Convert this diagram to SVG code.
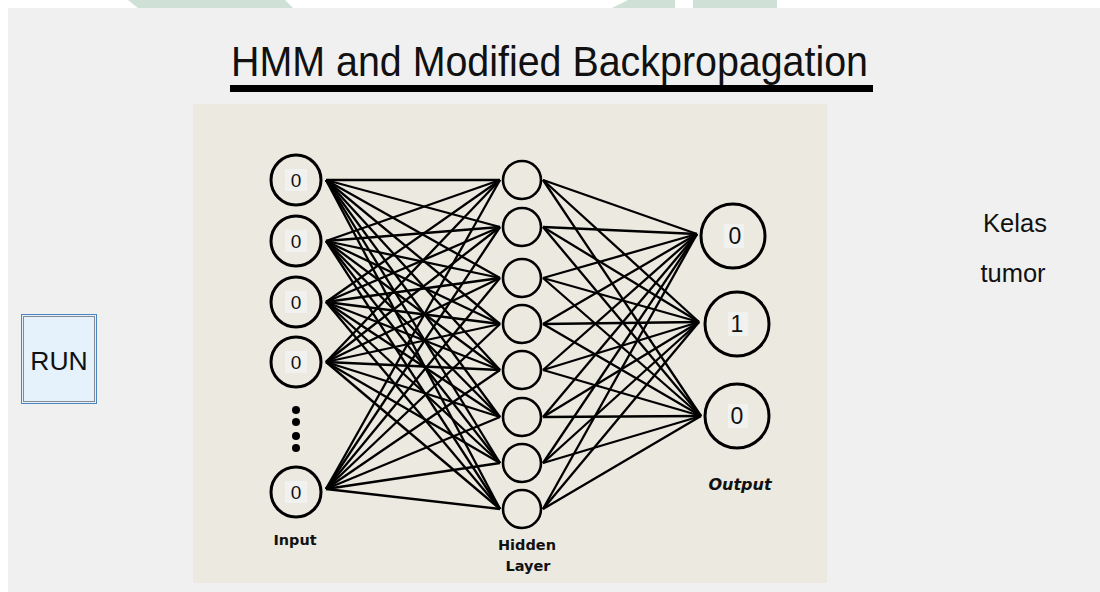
<svg xmlns="http://www.w3.org/2000/svg" width="1100" height="592" viewBox="0 0 1100 592">
<defs>
<style>
.wm{fill:#cfe0d6}
.panel{fill:#f0f0f0}
.img{fill:#ece9e0}
.in{fill:#ece9e0;stroke:#000;stroke-width:3}
.hid{fill:#ece9e0;stroke:#000;stroke-width:2.6}
.out{fill:#ece9e0;stroke:#000;stroke-width:3}
.lbg{fill:#f1f1ef}
.dig{font-family:"Liberation Sans",Arial,sans-serif;fill:#111;text-anchor:middle}
.lbl{font-family:"DejaVu Sans",sans-serif;font-weight:bold;fill:#111;text-anchor:middle}
.conn line{stroke:#000;stroke-width:2.3}
.gui{font-family:"Liberation Sans",Arial,sans-serif;fill:#111}
</style>
</defs>
<rect width="1100" height="592" fill="#ffffff"/>
<polygon class="wm" points="128,0 285,0 293,8 138,8"/>
<polygon class="wm" points="628,0 675,0 675,8 612,8"/>
<rect class="wm" x="693" y="0" width="84" height="8"/>
<rect class="panel" x="8" y="8" width="1092" height="584"/>

<g id="title">
<text class="gui" x="231" y="76" font-size="43" textLength="637" lengthAdjust="spacingAndGlyphs">HMM and Modified Backpropagation</text>
<rect x="230" y="85" width="643" height="7" fill="#000"/>
</g>

<g id="run-button">
<rect x="21.5" y="314.5" width="75" height="89" fill="#e5f1fb" stroke="#4a86c0" stroke-width="1"/>
<rect x="23.5" y="316.5" width="71" height="85" fill="none" stroke="#222" stroke-width="1" stroke-dasharray="1,1"/>
<text class="gui" x="59" y="370" font-size="26.5" text-anchor="middle">RUN</text>
</g>

<g id="kelas-tumor">
<text class="gui" x="1015" y="232" font-size="25.5" text-anchor="middle">Kelas</text>
<text class="gui" x="1013" y="282" font-size="25.5" text-anchor="middle">tumor</text>
</g>

<rect id="network-image" class="img" x="193" y="104" width="634" height="479"/>

<g id="connectors" class="conn">
<!-- input -> hidden -->
<line x1="326" y1="180" x2="500" y2="180"/><line x1="326" y1="180" x2="500" y2="227"/><line x1="326" y1="180" x2="500" y2="278"/><line x1="326" y1="180" x2="500" y2="324"/><line x1="326" y1="180" x2="500" y2="370"/><line x1="326" y1="180" x2="500" y2="417"/><line x1="326" y1="180" x2="500" y2="463"/><line x1="326" y1="180" x2="500" y2="509"/>
<line x1="326" y1="241" x2="500" y2="180"/><line x1="326" y1="241" x2="500" y2="227"/><line x1="326" y1="241" x2="500" y2="278"/><line x1="326" y1="241" x2="500" y2="324"/><line x1="326" y1="241" x2="500" y2="370"/><line x1="326" y1="241" x2="500" y2="417"/><line x1="326" y1="241" x2="500" y2="463"/><line x1="326" y1="241" x2="500" y2="509"/>
<line x1="326" y1="302" x2="500" y2="180"/><line x1="326" y1="302" x2="500" y2="227"/><line x1="326" y1="302" x2="500" y2="278"/><line x1="326" y1="302" x2="500" y2="324"/><line x1="326" y1="302" x2="500" y2="370"/><line x1="326" y1="302" x2="500" y2="417"/><line x1="326" y1="302" x2="500" y2="463"/><line x1="326" y1="302" x2="500" y2="509"/>
<line x1="326" y1="362" x2="500" y2="180"/><line x1="326" y1="362" x2="500" y2="227"/><line x1="326" y1="362" x2="500" y2="278"/><line x1="326" y1="362" x2="500" y2="324"/><line x1="326" y1="362" x2="500" y2="370"/><line x1="326" y1="362" x2="500" y2="417"/><line x1="326" y1="362" x2="500" y2="463"/><line x1="326" y1="362" x2="500" y2="509"/>
<line x1="326" y1="489" x2="500" y2="180"/><line x1="326" y1="489" x2="500" y2="227"/><line x1="326" y1="489" x2="500" y2="278"/><line x1="326" y1="489" x2="500" y2="324"/><line x1="326" y1="489" x2="500" y2="370"/><line x1="326" y1="489" x2="500" y2="417"/><line x1="326" y1="489" x2="500" y2="463"/><line x1="326" y1="489" x2="500" y2="509"/>
<!-- hidden -> output -->
<line x1="543" y1="180" x2="697" y2="234"/><line x1="543" y1="180" x2="699" y2="322"/><line x1="543" y1="180" x2="701" y2="416"/>
<line x1="543" y1="227" x2="697" y2="234"/><line x1="543" y1="227" x2="699" y2="322"/><line x1="543" y1="227" x2="701" y2="416"/>
<line x1="543" y1="278" x2="697" y2="234"/><line x1="543" y1="278" x2="699" y2="322"/><line x1="543" y1="278" x2="701" y2="416"/>
<line x1="543" y1="324" x2="697" y2="234"/><line x1="543" y1="324" x2="699" y2="322"/><line x1="543" y1="324" x2="701" y2="416"/>
<line x1="543" y1="370" x2="697" y2="234"/><line x1="543" y1="370" x2="699" y2="322"/><line x1="543" y1="370" x2="701" y2="416"/>
<line x1="543" y1="417" x2="697" y2="234"/><line x1="543" y1="417" x2="699" y2="322"/><line x1="543" y1="417" x2="701" y2="416"/>
<line x1="543" y1="463" x2="697" y2="234"/><line x1="543" y1="463" x2="699" y2="322"/><line x1="543" y1="463" x2="701" y2="416"/>
<line x1="543" y1="509" x2="697" y2="234"/><line x1="543" y1="509" x2="699" y2="322"/><line x1="543" y1="509" x2="701" y2="416"/>
</g>

<g id="input-1"><circle class="in" cx="296" cy="180" r="25"/><rect class="lbg" x="285" y="169" width="22" height="22"/><text class="dig" x="296" y="187" font-size="19">0</text></g>
<g id="input-2"><circle class="in" cx="296" cy="241" r="25"/><rect class="lbg" x="285" y="230" width="22" height="22"/><text class="dig" x="296" y="248" font-size="19">0</text></g>
<g id="input-3"><circle class="in" cx="296" cy="302" r="25"/><rect class="lbg" x="285" y="291" width="22" height="22"/><text class="dig" x="296" y="309" font-size="19">0</text></g>
<g id="input-4"><circle class="in" cx="296" cy="362" r="25"/><rect class="lbg" x="285" y="351" width="22" height="22"/><text class="dig" x="296" y="369" font-size="19">0</text></g>
<g id="input-dots"><circle cx="296" cy="410" r="4"/><circle cx="296" cy="422" r="4"/><circle cx="296" cy="436" r="4"/><circle cx="296" cy="448" r="4"/></g>
<g id="input-n"><circle class="in" cx="296" cy="492" r="25"/><rect class="lbg" x="285" y="481" width="22" height="22"/><text class="dig" x="296" y="499" font-size="19">0</text></g>
<g id="input-label"><text class="lbl" x="295" y="545" font-size="14.4">Input</text></g>

<g id="hidden-1"><circle class="hid" cx="522" cy="180" r="19"/></g>
<g id="hidden-2"><circle class="hid" cx="522" cy="227" r="19"/></g>
<g id="hidden-3"><circle class="hid" cx="522" cy="278" r="19"/></g>
<g id="hidden-4"><circle class="hid" cx="522" cy="324" r="19"/></g>
<g id="hidden-5"><circle class="hid" cx="522" cy="370" r="19"/></g>
<g id="hidden-6"><circle class="hid" cx="522" cy="417" r="19"/></g>
<g id="hidden-7"><circle class="hid" cx="522" cy="463" r="19"/></g>
<g id="hidden-8"><circle class="hid" cx="522" cy="509" r="19"/></g>
<g id="hidden-label"><text class="lbl" x="527" y="550" font-size="14.5">Hidden</text><text class="lbl" x="528" y="571" font-size="14.5">Layer</text></g>

<g id="output-1"><circle class="out" cx="733" cy="236" r="32"/><rect class="lbg" x="724" y="224" width="20" height="24"/><text class="dig" x="735" y="244" font-size="23">0</text></g>
<g id="output-2"><circle class="out" cx="737" cy="324" r="32"/><rect class="lbg" x="728" y="312" width="20" height="24"/><text class="dig" x="737" y="332" font-size="23">1</text></g>
<g id="output-3"><circle class="out" cx="737" cy="416" r="32"/><rect class="lbg" x="728" y="404" width="20" height="24"/><text class="dig" x="737" y="424" font-size="23">0</text></g>
<g id="output-label"><text class="lbl" x="740" y="490" font-size="16" font-style="italic">Output</text></g>
</svg>
